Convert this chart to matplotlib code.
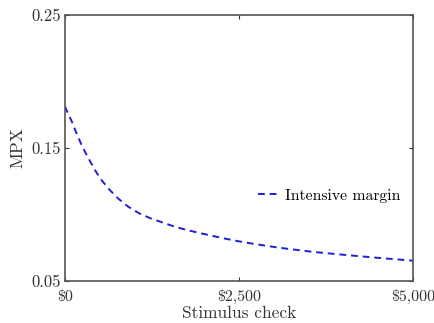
import numpy as np
import matplotlib
matplotlib.use("Agg")
import matplotlib.pyplot as plt

plt.rcParams['font.family'] = ['cmr10', 'DejaVu Serif']
plt.rcParams['mathtext.fontset'] = 'cm'
plt.rcParams['axes.formatter.use_mathtext'] = True

# values
check = [0, 105, 168, 249, 335, 421, 517, 637, 766, 910, 1068, 1231, 1580,
         1757, 1940, 2122, 2299, 2481, 2658, 2840, 3017, 3200, 3600, 4070,
         4500, 5000]
mpx = [0.1812, 0.1693, 0.1610, 0.1512, 0.1427, 0.1344, 0.1265, 0.1189,
       0.1120, 0.1059, 0.1009, 0.0971, 0.0908, 0.0883, 0.0860, 0.0839,
       0.0819, 0.0800, 0.0784, 0.0769, 0.0755, 0.0742, 0.0717, 0.0694,
       0.0674, 0.0653]
xticks = [0, 2500, 5000]
xticklabels = ['$0', '$2,500', '$5,000']
yticks = [0.05, 0.15, 0.25]
yticklabels = ['0.05', '0.15', '0.25']

fig = plt.figure(figsize=(4.35, 3.23), dpi=100)
ax = fig.add_axes([0.149, 0.130, 0.800, 0.824])

ax.plot(check, mpx, '--', color='#1f1fd6', lw=1.4, dashes=(3.5, 2.5),
        label='Intensive margin')

ax.set_xlim(0, 5000)
ax.set_ylim(0.05, 0.25)
ax.set_xticks(xticks)
ax.set_xticklabels(xticklabels)
ax.set_yticks(yticks)
ax.set_yticklabels(yticklabels)
ax.tick_params(direction='in', length=3, width=0.8, top=True, right=True,
               colors='#333333', labelcolor='#333333')
ax.tick_params(axis='x', labelsize=11.5, pad=6)
ax.tick_params(axis='y', labelsize=12, pad=3)
for s in ax.spines.values():
    s.set_color('#555555')
    s.set_linewidth(1.2)

ax.set_xlabel('Stimulus check', fontsize=12.5, color='#333333', labelpad=1)
ax.set_ylabel('MPX', fontsize=12.5, color='#333333', labelpad=4)

ax.legend(loc='center right', bbox_to_anchor=(1.006, 0.32), frameon=False,
          fontsize=11.3, handlelength=1.3, handletextpad=0.45)

fig.savefig('out.png', dpi=100)
